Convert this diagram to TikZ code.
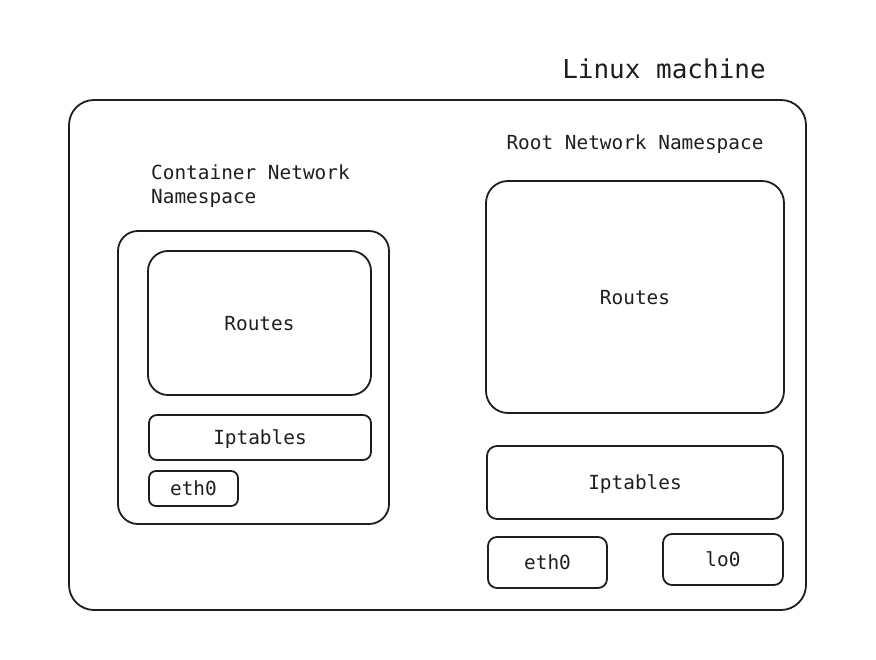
\documentclass[tikz,border=0pt]{standalone}
\usepackage{fontspec}
\setmonofont{DejaVu Sans Mono}
\definecolor{ink}{HTML}{1E1E1E}
\begin{document}
\begin{tikzpicture}[x=1pt,y=-1pt,
  box/.style={draw=ink,text=ink,line width=1.8pt,rounded corners=#1,inner sep=0pt,font=\ttfamily\fontsize{19.4}{23}\selectfont},
  lbl/.style={text=ink,inner sep=0pt,font=\ttfamily\fontsize{19.4}{24}\selectfont}]
\useasboundingbox (0,0) rectangle (876,660);
\node[text=ink,inner sep=0pt,font=\ttfamily\fontsize{26}{30}\selectfont] (linux) at (664,69) {Linux machine};
\node[box=25pt,minimum width=737pt,minimum height=510pt] (machine) at (437.5,355) {};
% container network namespace
\node[lbl,align=left,anchor=west] (cnsname) at (151,186) {Container Network\\Namespace};
\node[box=20pt,minimum width=271pt,minimum height=293pt] (cns) at (253.5,377.5) {};
\node[box=20pt,minimum width=223pt,minimum height=144pt,text depth=-1.5pt] (croutes) at (259.5,323) {Routes};
\node[box=8pt,minimum width=222pt,minimum height=45pt,text depth=-1.5pt] (ciptables) at (260,437.5) {Iptables};
\node[box=7pt,minimum width=89pt,minimum height=35pt,text depth=-1.5pt] (ceth) at (193.5,488.5) {eth0};
% root network namespace
\node[lbl] (rnsname) at (635,144) {Root Network Namespace};
\node[box=22pt,minimum width=298pt,minimum height=232pt,text depth=-1.5pt] (rroutes) at (635,297) {Routes};
\node[box=10pt,minimum width=296pt,minimum height=73pt,text depth=-1.5pt] (riptables) at (635,482.5) {Iptables};
\node[box=9pt,minimum width=119pt,minimum height=51pt,text depth=-1.5pt] (reth) at (547.5,562.5) {eth0};
\node[box=9pt,minimum width=120pt,minimum height=51pt,text depth=-1.5pt] (rlo) at (723,559.5) {lo0};
\end{tikzpicture}
\end{document}
